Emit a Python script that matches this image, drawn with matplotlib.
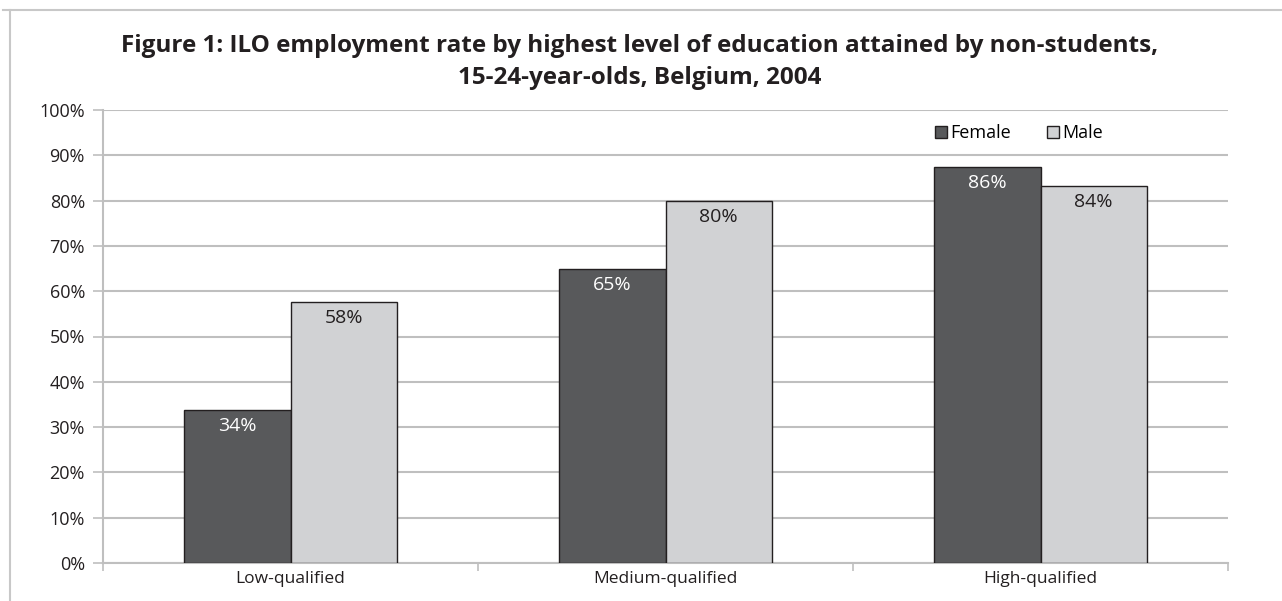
import matplotlib
matplotlib.use("Agg")
import matplotlib.pyplot as plt
from matplotlib.lines import Line2D
import numpy as np

categories = ["Low-qualified", "Medium-qualified", "High-qualified"]
female = [33.7, 64.8, 87.5]
male = [57.7, 80.0, 83.3]
female_labels = ["34%", "65%", "86%"]
male_labels = ["58%", "80%", "84%"]
series_names = ["Female", "Male"]
title = ("Figure 1: ILO employment rate by highest level of education attained by non-students,\n"
         "15-24-year-olds, Belgium, 2004")

FONT = ["Open Sans", "DejaVu Sans"]
plt.rcParams["font.family"] = FONT

W, H = 1282, 601
fig = plt.figure(figsize=(W / 100, H / 100), dpi=100)
ax = fig.add_axes([103 / W, 1 - 563 / H, (1228 - 103) / W, (563 - 110) / H])

x = np.arange(len(categories))
bw = 0.283
c_f, c_m = "#58595b", "#d1d2d4"
b1 = ax.bar(x - bw / 2, female, bw, color=c_f, edgecolor="#231f20", linewidth=1.0, zorder=3, label=series_names[0])
b2 = ax.bar(x + bw / 2, male, bw, color=c_m, edgecolor="#231f20", linewidth=1.0, zorder=3, label=series_names[1])

for rect, lab in zip(b1, female_labels):
    ax.annotate(lab, (rect.get_x() + rect.get_width() / 2, rect.get_height()),
                xytext=(0, -5), textcoords="offset points", ha="center", va="top",
                color="white", fontsize=14, zorder=4)
for rect, lab in zip(b2, male_labels):
    ax.annotate(lab, (rect.get_x() + rect.get_width() / 2, rect.get_height()),
                xytext=(0, -5), textcoords="offset points", ha="center", va="top",
                color="#231f20", fontsize=14, zorder=4)

ax.set_xlim(-0.5, len(categories) - 0.5)
ax.set_ylim(0, 100)
ax.set_yticks(np.arange(0, 101, 10))
ax.set_yticklabels([f"{v}%" for v in range(0, 101, 10)], fontsize=13, color="#231f20")
ax.yaxis.grid(True, color="#bfbfbf", linewidth=1.5, zorder=0)
ax.set_axisbelow(True)

ax.set_xticks(x)
ax.set_xticklabels(categories, fontsize=12.5, color="#231f20")
ax.set_xticks(np.arange(-0.5, len(categories), 1.0), minor=True)
ax.tick_params(axis="x", which="major", length=0, pad=6)
ax.tick_params(axis="x", which="minor", length=6, color="#bfbfbf", width=1.2)
ax.tick_params(axis="y", length=7, color="#bfbfbf", width=1.2, pad=6)

for s in ["top", "right"]:
    ax.spines[s].set_visible(False)
for s in ["left", "bottom"]:
    ax.spines[s].set_color("#bfbfbf")
    ax.spines[s].set_linewidth(1.5)

handles = [plt.Rectangle((0, 0), 1, 1, facecolor=c_f, edgecolor="#231f20", linewidth=1.0),
           plt.Rectangle((0, 0), 1, 1, facecolor=c_m, edgecolor="#231f20", linewidth=1.0)]
fig.legend(handles, series_names, loc="center left", bbox_to_anchor=(935 / W, 1 - 133 / H),
           ncol=2, frameon=False, fontsize=13, handlelength=0.65, handleheight=0.65,
           handletextpad=0.2, columnspacing=2.0, borderaxespad=0, borderpad=0)

fig.text(640 / W, 1 - 62 / H, title, ha="center", va="center", fontsize=17.5,
         fontweight="bold", color="#231f20", linespacing=1.45)

# outer frame lines (top and left)
fig.add_artist(Line2D([3 / W, 1.0], [1 - 10 / H, 1 - 10 / H], color="#c8c8c8", linewidth=1.5))
fig.add_artist(Line2D([10 / W, 10 / W], [0, 1 - 10 / H], color="#c8c8c8", linewidth=1.5))

fig.savefig("out.png", dpi=100)
